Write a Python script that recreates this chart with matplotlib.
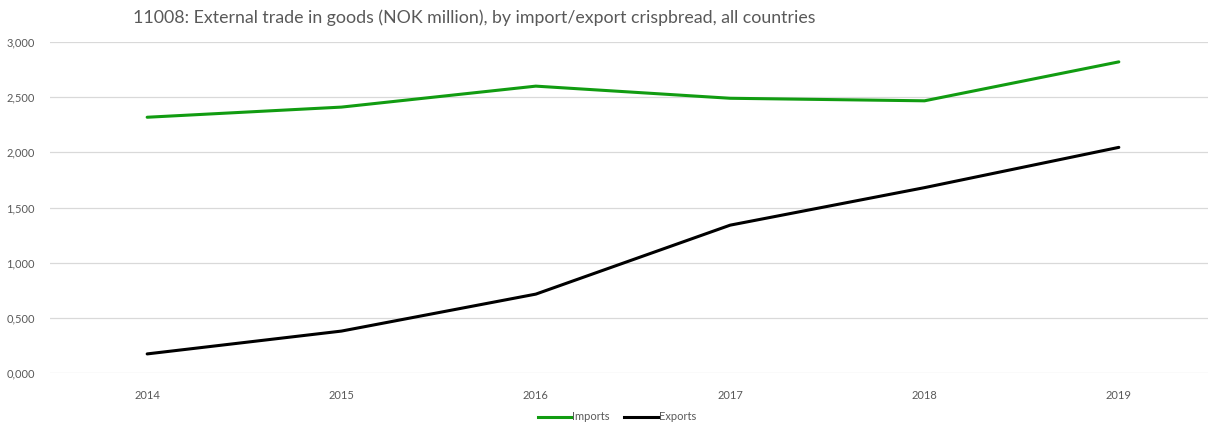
import numpy as np
import matplotlib.pyplot as plt
from matplotlib.lines import Line2D

years = ["2014", "2015", "2016", "2017", "2018", "2019"]
imports = [2.318, 2.41, 2.60, 2.49, 2.467, 2.82]
exports = [0.173, 0.38, 0.715, 1.34, 1.68, 2.045]
yticks = [0, 0.5, 1.0, 1.5, 2.0, 2.5, 3.0]
ytick_labels = ["0,000", "0,500", "1,000", "1,500", "2,000", "2,500", "3,000"]

plt.rcParams['font.family'] = ['Lato', 'DejaVu Sans']

fig = plt.figure(figsize=(12.08, 4.32), dpi=100)
ax = fig.add_axes([50 / 1208, 1 - 373 / 432, 1166 / 1208, 331 / 432])

x = np.arange(len(years))
ax.plot(x, imports, color="#119c11", lw=2.2, solid_joinstyle="round",
        solid_capstyle="round", zorder=3)
ax.plot(x, exports, color="#000000", lw=2.2, solid_joinstyle="round",
        solid_capstyle="round", zorder=3)

ax.set_xlim(-0.5, len(years) - 0.5)
ax.set_ylim(0, 3.0)
ax.set_yticks(yticks)
ax.set_yticklabels(ytick_labels)
ax.set_xticks(x)
ax.set_xticklabels(years)
ax.grid(axis="y", color="#d9d9d9", lw=0.9)
ax.set_axisbelow(True)
for s in ax.spines.values():
    s.set_visible(False)
ax.tick_params(length=0, labelsize=8, colors="#595959")
ax.tick_params(axis="y", pad=11)
ax.tick_params(axis="x", pad=12)

fig.text(133 / 1208, 1 - 18 / 432, "11008: External trade in goods (NOK million), by import/export crispbread, all countries",
         fontsize=12.8, color="#595959", va="center", ha="left")

handles = [Line2D([], [], color="#119c11", lw=2.2), Line2D([], [], color="#000000", lw=2.2)]
fig.legend(handles, ["Imports", "Exports"], loc="center", bbox_to_anchor=(617 / 1208, 1 - 417 / 432),
           ncol=2, frameon=False, fontsize=8, labelcolor="#595959", handlelength=3.0,
           handletextpad=0.1, columnspacing=1.3)

fig.savefig("out.png", dpi=100)
